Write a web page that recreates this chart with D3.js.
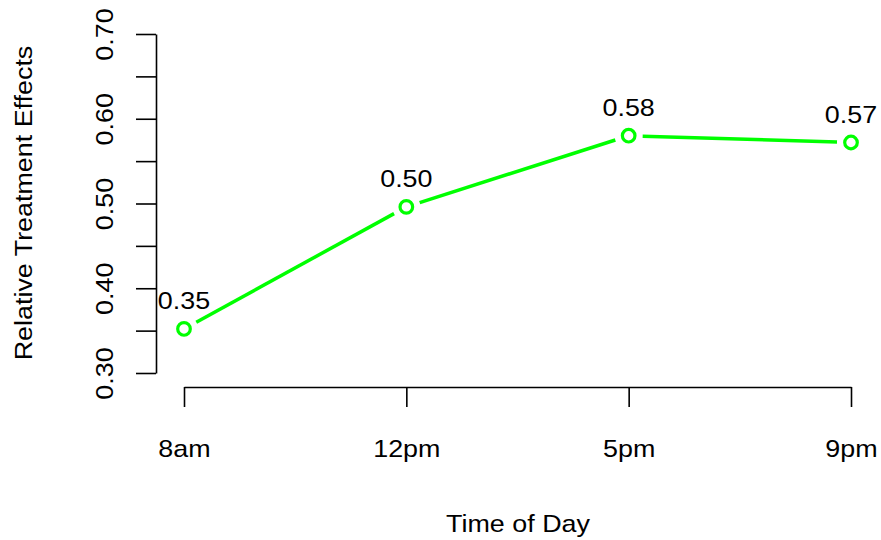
<!DOCTYPE html>
<html>
<head>
<meta charset="utf-8">
<script src="https://cdn.jsdelivr.net/npm/d3@7"></script>
<style>
  body { margin: 0; background: #fff; }
  text { font-family: "Liberation Sans", Arial, sans-serif; fill: #000; }
</style>
</head>
<body>
<svg id="chart" width="881" height="540"></svg>
<script>
const times = ["8am", "12pm", "5pm", "9pm"]
const effects = [0.352, 0.496, 0.580, 0.572]
const pointLabels = ["0.35", "0.50", "0.58", "0.57"]
const yTicks = [0.30, 0.35, 0.40, 0.45, 0.50, 0.55, 0.60, 0.65, 0.70]
const yTickLabels = ["0.30", "", "0.40", "", "0.50", "", "0.60", "", "0.70"]

const svg = d3.select("#chart")
const green = "#00ff00"
const fontSize = 24
const stretch = 1.12

const x = d3.scalePoint().domain(times).range([184, 851])
const y = d3.scaleLinear().domain([0.30, 0.70]).range([373, 34])

// y axis
const yAxis = svg.append("g")
    .attr("transform", "translate(156,0)")
    .call(d3.axisLeft(y).tickValues(yTicks).tickSize(20).tickSizeOuter(0)
        .tickFormat((d, i) => yTickLabels[i]))
yAxis.select(".domain").attr("stroke", "#000").attr("stroke-width", 1.6)
yAxis.selectAll(".tick line").attr("stroke", "#000").attr("stroke-width", 1.6)
yAxis.selectAll(".tick text")
    .attr("x", null).attr("dy", null)
    .attr("transform", "translate(-43,0) rotate(-90) scale(" + stretch + ",1)")
    .attr("text-anchor", "middle")
    .style("font-size", fontSize + "px")
    .style("font-family", "Liberation Sans, Arial, sans-serif")

// x axis
const xAxis = svg.append("g")
    .attr("transform", "translate(0,387)")
    .call(d3.axisBottom(x).tickSize(20).tickSizeOuter(0))
xAxis.select(".domain").attr("stroke", "#000").attr("stroke-width", 1.6)
xAxis.selectAll(".tick line").attr("stroke", "#000").attr("stroke-width", 1.6)
xAxis.selectAll(".tick text")
    .attr("y", null).attr("dy", null)
    .attr("transform", "translate(0,70) scale(" + stretch + ",1)")
    .attr("text-anchor", "middle")
    .style("font-size", fontSize + "px")
    .style("font-family", "Liberation Sans, Arial, sans-serif")

// axis titles
svg.append("text")
    .attr("transform", "translate(518,532) scale(" + stretch + ",1)")
    .attr("text-anchor", "middle")
    .style("font-size", fontSize + "px")
    .text("Time of Day")

svg.append("text")
    .attr("transform", "translate(32,203) rotate(-90) scale(" + stretch + ",1)")
    .attr("text-anchor", "middle")
    .style("font-size", fontSize + "px")
    .text("Relative Treatment Effects")

// line segments with gaps round the points (type "b")
const pts = times.map((t, i) => [x(t), y(effects[i])])
const gap = 14
const segs = d3.pairs(pts).map(([a, b]) => {
    const dx = b[0] - a[0], dy = b[1] - a[1]
    const len = Math.hypot(dx, dy)
    const ux = dx / len, uy = dy / len
    return [a[0] + ux * gap, a[1] + uy * gap, b[0] - ux * gap, b[1] - uy * gap]
})
svg.append("g").selectAll("line")
    .data(segs)
    .join("line")
    .attr("x1", d => d[0]).attr("y1", d => d[1])
    .attr("x2", d => d[2]).attr("y2", d => d[3])
    .attr("stroke", green)
    .attr("stroke-width", 3.5)

// points
svg.append("g").selectAll("circle")
    .data(effects)
    .join("circle")
    .attr("cx", (d, i) => x(times[i]))
    .attr("cy", d => y(d))
    .attr("r", 6.3)
    .attr("fill", "none")
    .attr("stroke", green)
    .attr("stroke-width", 3.2)

// value labels
svg.append("g").selectAll("text")
    .data(effects)
    .join("text")
    .attr("transform", (d, i) => "translate(" + x(times[i]) + "," + (y(d) - 19.5) + ") scale(" + stretch + ",1)")
    .attr("text-anchor", "middle")
    .style("font-size", fontSize + "px")
    .text((d, i) => pointLabels[i])
</script>
</body>
</html>
